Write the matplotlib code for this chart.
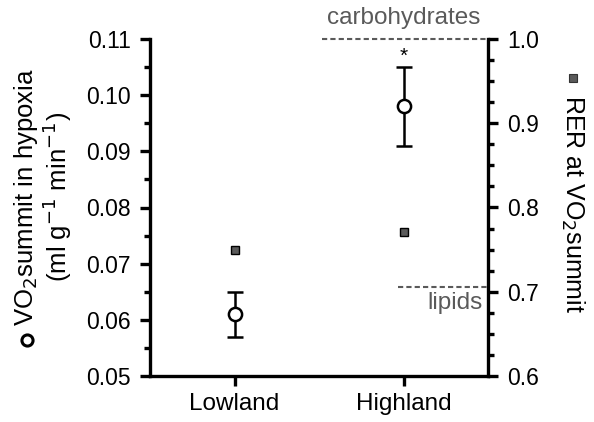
import numpy as np
import matplotlib
matplotlib.use('Agg')
import matplotlib.pyplot as plt
from matplotlib.ticker import MultipleLocator, FormatStrFormatter

plt.rcParams['font.family'] = ['Liberation Sans', 'DejaVu Sans']

# Data
groups = ['Lowland', 'Highland']
vo2 = [0.061, 0.098]
vo2_lo = [0.057, 0.091]
vo2_hi = [0.065, 0.105]
rer = [0.750, 0.771]
rer_err = [0.003, 0.004]
carb_level = 1.0
lipid_level = 0.706

x = np.arange(len(groups))
grey = '#5a5a5a'

fig = plt.figure(figsize=(5.94, 4.22), dpi=100)
ax1 = fig.add_axes([150/594, 1 - 376/422, 338/594, 337/422])
ax2 = ax1.twinx()
ax1.set_zorder(2)
ax1.patch.set_visible(False)

# VO2 summit (open circles)
yerr = [np.array(vo2) - np.array(vo2_lo), np.array(vo2_hi) - np.array(vo2)]
ax1.errorbar(x, vo2, yerr=yerr, fmt='o', ms=9.5, mfc='white', mec='black',
             mew=1.8, ecolor='black', elinewidth=1.8, capsize=6, capthick=1.8,
             zorder=3)

# RER (grey squares)
ax2.errorbar(x, rer, yerr=rer_err, fmt='s', ms=5.5, mfc=grey, mec='black',
             mew=1, ecolor='black', elinewidth=1.5, capsize=2.8, capthick=1.5)

# reference lines
ax2.plot([0.52, 1.5], [carb_level, carb_level], ls='--', color=grey,
         lw=1.5, dashes=(2.5, 1.5), clip_on=False)
ax2.plot([0.97, 1.5], [lipid_level, lipid_level], ls='--', color=grey,
         lw=1.5, dashes=(2.5, 1.5), clip_on=False)
ax2.text(1.0, 1.012, 'carbohydrates', color=grey, fontsize=17.5,
         ha='center', va='bottom')
ax2.text(1.47, lipid_level - 0.006, 'lipids', color=grey, fontsize=17.5,
         ha='right', va='top')
ax1.text(1, 0.1053, '*', ha='center', va='bottom', fontsize=15)

ax1.set_xlim(-0.5, 1.5)
ax1.set_ylim(0.05, 0.11)
ax2.set_ylim(0.6, 1.0)
ax1.set_xticks(x)
ax1.set_xticklabels(groups)
ax1.yaxis.set_major_locator(MultipleLocator(0.01))
ax1.yaxis.set_minor_locator(MultipleLocator(0.005))
ax1.yaxis.set_major_formatter(FormatStrFormatter('%.2f'))
ax2.yaxis.set_major_locator(MultipleLocator(0.1))
ax2.yaxis.set_minor_locator(MultipleLocator(0.025))
ax2.yaxis.set_major_formatter(FormatStrFormatter('%.1f'))

for ax in (ax1, ax2):
    ax.spines['top'].set_visible(False)
    for s in ax.spines.values():
        s.set_linewidth(2.4)
    ax.tick_params(which='major', length=7, width=2.4, labelsize=16.5, pad=7)
    ax.tick_params(which='minor', length=4.5, width=2.4)
ax1.tick_params(axis='x', pad=5, labelsize=17.5)
ax2.spines['left'].set_visible(False)
ax2.spines['bottom'].set_visible(False)
ax1.spines['right'].set_visible(False)

ax1.set_ylabel('VO$_2$summit in hypoxia\n(ml g$^{-1}$ min$^{-1}$)',
               fontsize=18.5, linespacing=1.0)
ax1.yaxis.set_label_coords(-0.225, 0.53)
ax2.set_ylabel('RER at VO$_2$summit', fontsize=18, rotation=-90)
ax2.yaxis.set_label_coords(1.29, 0.51)

# series symbols next to the axis titles
fig.add_artist(plt.Line2D([27/594], [1 - 340/422], transform=fig.transFigure,
                          marker='o', ms=8, mfc='white', mec='black', mew=2.2))
fig.add_artist(plt.Line2D([573/594], [1 - 78/422], transform=fig.transFigure,
                          marker='s', ms=6, mfc=grey, mec='#333333', mew=0.8))

plt.savefig('out.png', dpi=100)
